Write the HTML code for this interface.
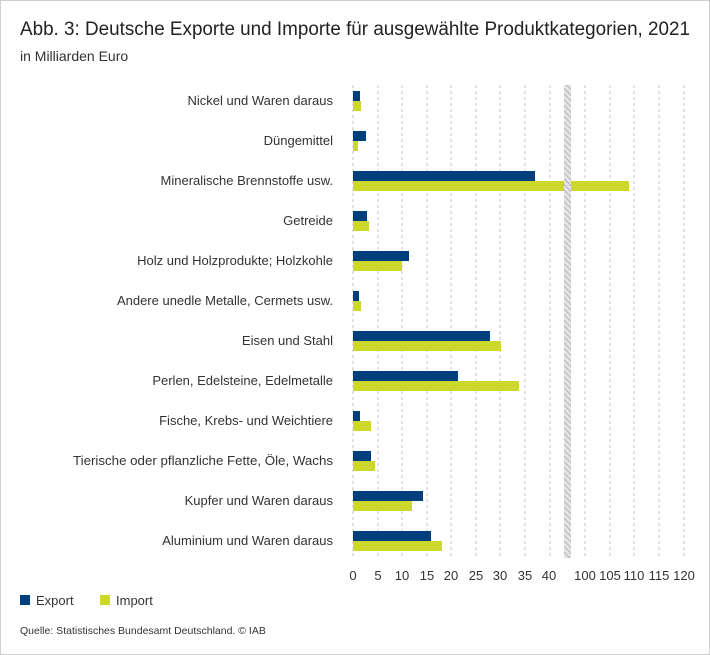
<!DOCTYPE html>
<html><head><meta charset="utf-8"><style>
html,body{margin:0;padding:0;background:#fff}
svg{display:block;font-family:"Liberation Sans",sans-serif}
</style></head><body>
<svg width="710" height="655" viewBox="0 0 710 655" xmlns="http://www.w3.org/2000/svg">
<defs>
<pattern id="h" width="4" height="4" patternUnits="userSpaceOnUse" patternTransform="rotate(-45)">
<rect width="4" height="4" fill="#e4e4e4"/><line x1="0" y1="0" x2="0" y2="4" stroke="#a8a8a8" stroke-width="1.6"/>
</pattern>
</defs>
<rect x="0.5" y="0.5" width="709" height="654" fill="#fff" stroke="#cfcfcf"/>
<text x="20" y="35" font-size="19" fill="#222" textLength="670" lengthAdjust="spacingAndGlyphs">Abb. 3: Deutsche Exporte und Importe für ausgewählte Produktkategorien, 2021</text>
<text x="20" y="61" font-size="14" fill="#333">in Milliarden Euro</text>
<g stroke="#d8d8d8" stroke-width="1.5" stroke-dasharray="3,3">
<line x1="353" y1="85" x2="353" y2="558"/><line x1="378" y1="85" x2="378" y2="558"/><line x1="402" y1="85" x2="402" y2="558"/><line x1="427" y1="85" x2="427" y2="558"/><line x1="451" y1="85" x2="451" y2="558"/><line x1="476" y1="85" x2="476" y2="558"/><line x1="500" y1="85" x2="500" y2="558"/><line x1="525" y1="85" x2="525" y2="558"/><line x1="550" y1="85" x2="550" y2="558"/>
<line x1="585" y1="85" x2="585" y2="558"/><line x1="610" y1="85" x2="610" y2="558"/><line x1="634" y1="85" x2="634" y2="558"/><line x1="659" y1="85" x2="659" y2="558"/><line x1="684" y1="85" x2="684" y2="558"/>
</g>
<g fill="#003f7d">
<rect x="353" y="91" width="7" height="10"/>
<rect x="353" y="131" width="13" height="10"/>
<rect x="353" y="171" width="182" height="10"/>
<rect x="353" y="211" width="14" height="10"/>
<rect x="353" y="251" width="56" height="10"/>
<rect x="353" y="291" width="6" height="10"/>
<rect x="353" y="331" width="137" height="10"/>
<rect x="353" y="371" width="105" height="10"/>
<rect x="353" y="411" width="7" height="10"/>
<rect x="353" y="451" width="18" height="10"/>
<rect x="353" y="491" width="70" height="10"/>
<rect x="353" y="531" width="78" height="10"/>
</g>
<g fill="#cdd82c">
<rect x="353" y="101" width="8" height="10"/>
<rect x="353" y="141" width="5" height="10"/>
<rect x="353" y="181" width="276" height="10"/>
<rect x="353" y="221" width="16" height="10"/>
<rect x="353" y="261" width="49" height="10"/>
<rect x="353" y="301" width="8" height="10"/>
<rect x="353" y="341" width="148" height="10"/>
<rect x="353" y="381" width="166" height="10"/>
<rect x="353" y="421" width="18" height="10"/>
<rect x="353" y="461" width="22" height="10"/>
<rect x="353" y="501" width="59" height="10"/>
<rect x="353" y="541" width="89" height="10"/>
</g>
<rect x="564" y="85" width="7" height="473" fill="url(#h)"/>
<g font-size="13" fill="#333" text-anchor="end">
<text x="333" y="105">Nickel und Waren daraus</text>
<text x="333" y="145">Düngemittel</text>
<text x="333" y="185">Mineralische Brennstoffe usw.</text>
<text x="333" y="225">Getreide</text>
<text x="333" y="265">Holz und Holzprodukte; Holzkohle</text>
<text x="333" y="305">Andere unedle Metalle, Cermets usw.</text>
<text x="333" y="345">Eisen und Stahl</text>
<text x="333" y="385">Perlen, Edelsteine, Edelmetalle</text>
<text x="333" y="425">Fische, Krebs- und Weichtiere</text>
<text x="333" y="465" textLength="260" lengthAdjust="spacingAndGlyphs">Tierische oder pflanzliche Fette, Öle, Wachs</text>
<text x="333" y="505">Kupfer und Waren daraus</text>
<text x="333" y="545">Aluminium und Waren daraus</text>
</g>
<g font-size="13" fill="#333" text-anchor="middle">
<text x="353" y="580">0</text><text x="378" y="580">5</text><text x="402" y="580">10</text><text x="427" y="580">15</text><text x="451" y="580">20</text><text x="476" y="580">25</text><text x="500" y="580">30</text><text x="525" y="580">35</text><text x="549" y="580">40</text>
<text x="585" y="580">100</text><text x="610" y="580">105</text><text x="634" y="580">110</text><text x="659" y="580">115</text><text x="684" y="580">120</text>
</g>
<rect x="20" y="595" width="10" height="10" fill="#003f7d"/>
<text x="36" y="605" font-size="13" fill="#333">Export</text>
<rect x="100" y="595" width="10" height="10" fill="#cdd82c"/>
<text x="116" y="605" font-size="13" fill="#333">Import</text>
<text x="20" y="634" font-size="10.5" fill="#333">Quelle: Statistisches Bundesamt Deutschland. © IAB</text>
</svg>
</body></html>
